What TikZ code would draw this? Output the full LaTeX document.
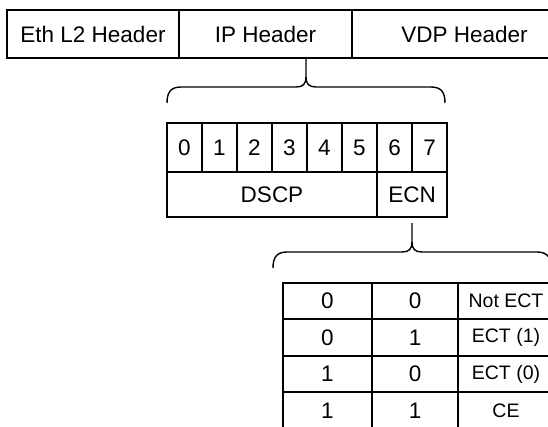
\documentclass[tikz,border=0pt]{standalone}
\usepackage{fontspec}
\setmainfont{Liberation Sans}
\begin{document}
\begin{tikzpicture}[x=1pt,y=-1pt,
  cell/.style={draw,line width=1.4pt,inner sep=0pt,font=\fontsize{22.5}{26}\selectfont},
  smallcell/.style={cell,font=\fontsize{19.5}{23}\selectfont},
  bracepic/.pic={
    \draw[line width=1.4pt] (-139,45) .. controls (-139,34) and (-135,29) .. (-125,29) -- (-10,29) .. controls (-3,29) and (0,26) .. (0,19) -- (0,0);
    \draw[line width=1.4pt] (139,45) .. controls (139,34) and (135,29) .. (125,29) -- (10,29) .. controls (3,29) and (0,26) .. (0,19);
  }]
\useasboundingbox (0,0) rectangle (548,426);
\clip (0,0) rectangle (548,426);
% header row
\node[cell,minimum width=172pt,minimum height=48pt] (eth) at (93,34) {Eth L2 Header};
\node[cell,minimum width=173pt,minimum height=48pt] (ip) at (265.5,34) {IP Header};
\node[cell,minimum width=225pt,minimum height=48pt] (vdp) at (464.5,34) {VDP Header};
% brace 1
\coordinate (s1) at (306,58);
\pic at (s1) {bracepic};
% bits
\foreach \i in {0,...,7}{
  \node[cell,minimum width=35pt,minimum height=49pt] (bit\i) at (184.5+35*\i,147.5) {\i};
}
\node[cell,minimum width=210pt,minimum height=45pt] (dscp) at (272,194.5) {DSCP};
\node[cell,minimum width=70pt,minimum height=45pt] (ecn) at (412,194.5) {ECN};
% brace 2
\coordinate (s2) at (412,223);
\pic at (s2) {bracepic};
% table
\node[cell,minimum width=89pt,minimum height=36pt] (r1a) at (327.5,301) {0};
\node[cell,minimum width=86pt,minimum height=36pt] (r1b) at (415,301) {0};
\node[smallcell,minimum width=96pt,minimum height=36pt] (r1c) at (506,301) {Not ECT};
\node[cell,minimum width=89pt,minimum height=37pt] (r2a) at (327.5,337.5) {0};
\node[cell,minimum width=86pt,minimum height=37pt] (r2b) at (415,337.5) {1};
\node[smallcell,minimum width=96pt,minimum height=37pt] (r2c) at (506,337.5) {ECT (1)};
\node[cell,minimum width=89pt,minimum height=36pt] (r3a) at (327.5,374) {1};
\node[cell,minimum width=86pt,minimum height=36pt] (r3b) at (415,374) {0};
\node[smallcell,minimum width=96pt,minimum height=36pt] (r3c) at (506,374) {ECT (0)};
\node[cell,minimum width=89pt,minimum height=38pt] (r4a) at (327.5,411) {1};
\node[cell,minimum width=86pt,minimum height=38pt] (r4b) at (415,411) {1};
\node[smallcell,minimum width=96pt,minimum height=38pt] (r4c) at (506,411) {CE};
\end{tikzpicture}
\end{document}
